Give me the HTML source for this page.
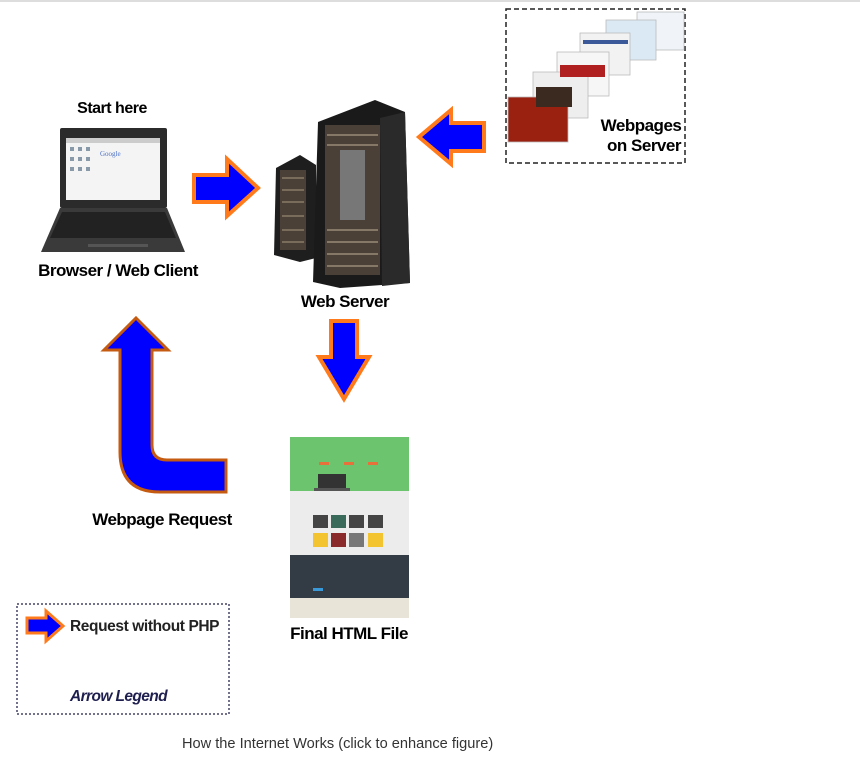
<!DOCTYPE html>
<html><head><meta charset="utf-8"><style>
html,body{margin:0;padding:0;background:#fff;}
body{width:860px;height:758px;overflow:hidden;position:relative;font-family:"Liberation Sans",sans-serif;}
svg{position:absolute;left:0;top:0}
.t{font-family:"Liberation Sans",sans-serif;font-weight:bold;fill:#000;letter-spacing:-0.5px}
</style></head><body>
<svg width="860" height="758" viewBox="0 0 860 758">
<rect x="0" y="0" width="860" height="2" fill="#ddd"/>
<text class="t" x="112" y="113" font-size="16" text-anchor="middle">Start here</text>
<!-- laptop -->
<rect x="60" y="128" width="107" height="80" rx="2" fill="#2b2b2b"/>
<rect x="66" y="138" width="94" height="62" fill="#f4f4f4"/>
<rect x="66" y="138" width="94" height="5" fill="#ccc"/>
<text x="100" y="156" font-size="7" fill="#4a6fc7" font-family="Liberation Serif">Google</text>
<g fill="#8899aa"><rect x="70" y="147" width="4" height="4"/><rect x="78" y="147" width="4" height="4"/><rect x="86" y="147" width="4" height="4"/><rect x="70" y="157" width="4" height="4"/><rect x="78" y="157" width="4" height="4"/><rect x="86" y="157" width="4" height="4"/><rect x="70" y="167" width="4" height="4"/><rect x="78" y="167" width="4" height="4"/><rect x="86" y="167" width="4" height="4"/></g>
<polygon points="60,208 167,208 185,252 41,252" fill="#3a3a3a"/>
<polygon points="62,212 165,212 176,238 50,238" fill="#222"/>
<rect x="88" y="244" width="60" height="3" fill="#555"/>
<text class="t" x="118" y="276" font-size="17" text-anchor="middle">Browser / Web Client</text>
<!-- right arrow -->
<polygon points="194,175 227,175 227,159 258,188 227,216 227,202 194,202" fill="#0000ff" stroke="#ff7a1a" stroke-width="4" stroke-linejoin="miter"/>
<!-- servers -->
<polygon points="276,168 300,155 316,165 316,258 300,262 274,255" fill="#1e1e1e"/>
<rect x="280" y="170" width="26" height="80" fill="#4a4038"/>
<g stroke="#8a7a66" stroke-width="1.5"><line x1="282" y1="178" x2="304" y2="178"/><line x1="282" y1="190" x2="304" y2="190"/><line x1="282" y1="202" x2="304" y2="202"/><line x1="282" y1="216" x2="304" y2="216"/><line x1="282" y1="230" x2="304" y2="230"/><line x1="282" y1="242" x2="304" y2="242"/></g>
<polygon points="318,122 375,100 405,112 410,283 340,288 313,282" fill="#1a1a1a"/>
<rect x="325" y="125" width="55" height="150" fill="#4a4038"/>
<rect x="340" y="150" width="25" height="70" fill="#777"/>
<g stroke="#9a8a76" stroke-width="1.5"><line x1="327" y1="135" x2="378" y2="135"/><line x1="327" y1="145" x2="378" y2="145"/><line x1="327" y1="230" x2="378" y2="230"/><line x1="327" y1="242" x2="378" y2="242"/><line x1="327" y1="254" x2="378" y2="254"/><line x1="327" y1="266" x2="378" y2="266"/></g>
<polygon points="380,118 405,112 410,283 382,286" fill="#2a2a2a"/>
<text class="t" x="345" y="307" font-size="17" text-anchor="middle">Web Server</text>
<!-- left arrow -->
<polygon points="484,123 451,123 451,110 419,137 451,164 451,151 484,151" fill="#0000ff" stroke="#ff7a1a" stroke-width="4"/>
<!-- dashed box -->
<rect x="506" y="9" width="179" height="154" fill="#fff" stroke="#222" stroke-width="1.5" stroke-dasharray="5,3"/>
<g stroke="#bbb" stroke-width="0.8">
<rect x="637" y="12" width="47" height="38" fill="#f0f4f8"/>
<rect x="606" y="20" width="50" height="40" fill="#dbe9f5"/>
<rect x="580" y="33" width="50" height="42" fill="#f2f2f2"/>
<rect x="557" y="52" width="52" height="44" fill="#f6f6f6"/>
<rect x="533" y="72" width="55" height="46" fill="#eee"/>
<rect x="508" y="97" width="60" height="45" fill="#9a2010"/>
</g>
<rect x="583" y="40" width="45" height="4" fill="#3b5998"/>
<rect x="560" y="65" width="45" height="12" fill="#b02020"/>
<rect x="536" y="87" width="36" height="20" fill="#3a2a20"/>
<text class="t" x="641" y="131" font-size="17" text-anchor="middle">Webpages</text>
<text class="t" x="644" y="151" font-size="17" text-anchor="middle">on Server</text>
<!-- down arrow -->
<polygon points="331,321 357,321 357,357 369,357 344,399 319,357 331,357" fill="#0000ff" stroke="#ff7a1a" stroke-width="4"/>
<!-- up curved arrow -->
<path d="M136,318 L168,350 L152,350 L152,445 Q152,460 167,460 L226,460 L226,492 L160,492 Q120,492 120,452 L120,350 L104,350 Z" fill="#0000ff" stroke="#c55a11" stroke-width="3"/>
<text class="t" x="162" y="525" font-size="17" text-anchor="middle">Webpage  Request</text>
<!-- html file -->
<rect x="290" y="437" width="119" height="54" fill="#6cc46f"/>
<rect x="290" y="491" width="119" height="64" fill="#ececec"/>
<rect x="290" y="555" width="119" height="43" fill="#333b45"/>
<rect x="290" y="598" width="119" height="20" fill="#e8e4d8"/>
<rect x="318" y="474" width="28" height="16" fill="#333"/>
<rect x="314" y="488" width="36" height="3" fill="#555"/>
<g fill="#444"><rect x="313" y="515" width="15" height="13"/><rect x="331" y="515" width="15" height="13" fill="#3a6b5a"/><rect x="349" y="515" width="15" height="13"/><rect x="368" y="515" width="15" height="13"/></g>
<g><rect x="313" y="533" width="15" height="14" fill="#f4c430"/><rect x="331" y="533" width="15" height="14" fill="#8b2a2a"/><rect x="349" y="533" width="15" height="14" fill="#777"/><rect x="368" y="533" width="15" height="14" fill="#f4c430"/></g>
<g fill="#e8703a"><rect x="319" y="462" width="10" height="3"/><rect x="344" y="462" width="10" height="3"/><rect x="368" y="462" width="10" height="3"/></g>
<rect x="313" y="588" width="10" height="3" fill="#3a9ad9"/>
<text class="t" x="349" y="639" font-size="17" text-anchor="middle">Final  HTML File</text>
<!-- legend -->
<rect x="17" y="604" width="212" height="110" fill="#fff" stroke="#444466" stroke-width="1.5" stroke-dasharray="2,2"/>
<polygon points="27,618 46,618 46,611 63,626 46,641 46,633 27,633" fill="#0000ff" stroke="#ff7a1a" stroke-width="3"/>
<text x="70" y="631" font-size="15.5" font-weight="bold" fill="#222" letter-spacing="-0.4" font-family="Liberation Sans,sans-serif">Request without PHP</text>
<text x="70" y="701" font-size="15.5" font-weight="bold" font-style="italic" fill="#1f1f4f" letter-spacing="-0.6" font-family="Liberation Sans,sans-serif">Arrow Legend</text>
<text x="182" y="748" font-size="14.6" fill="#333" font-family="Liberation Sans,sans-serif">How the Internet Works (click to enhance figure)</text>
</svg>
</body></html>
